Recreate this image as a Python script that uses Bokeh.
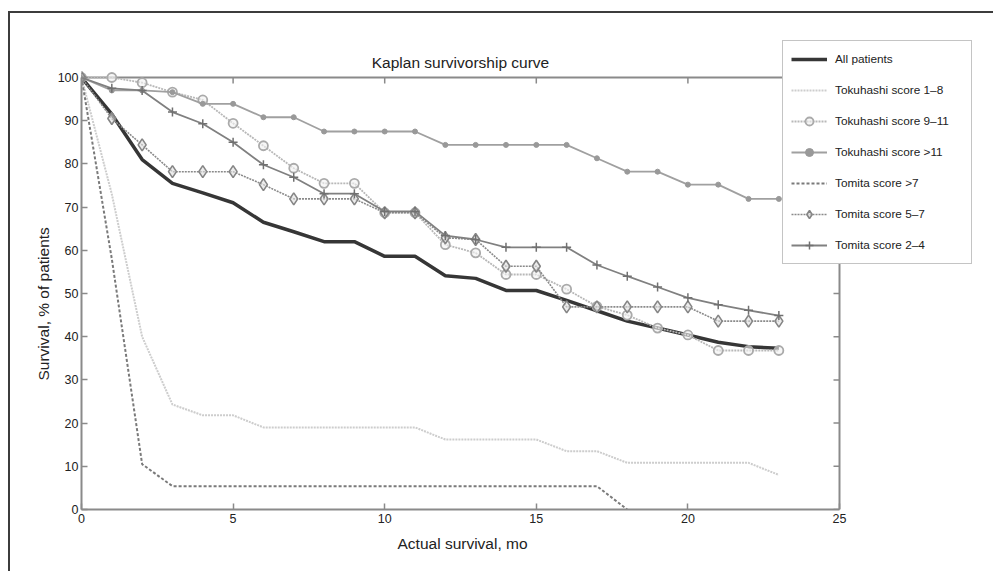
from bokeh.plotting import figure
from bokeh.models import (Range1d, Legend, LegendItem, FixedTicker, Label, Title)
from bokeh.embed import file_html
from bokeh.resources import INLINE

# ---------------- data ----------------
months = list(range(24))
all_patients = [100, 91.5, 81, 75.5, 73.3, 71, 66.5, 64.3, 62, 62, 58.6, 58.6,
                54.1, 53.5, 50.7, 50.7, 48.4, 46, 43.6, 42, 40.4, 38.7, 37.7, 37.3]
tok_1_8 = [100, 73, 40, 24.3, 21.8, 21.8, 19, 19, 19, 19, 19, 19,
           16.2, 16.2, 16.2, 16.2, 13.5, 13.5, 10.8, 10.8, 10.8, 10.8, 10.8, 8.0]
tok_9_11 = [100, 100, 98.8, 96.6, 94.8, 89.4, 84.2, 79, 75.5, 75.5, 68.7, 68.7,
            61.3, 59.4, 54.4, 54.4, 51, 47, 45, 42, 40.4, 36.8, 36.8, 36.8]
tok_gt11 = [100, 97, 97, 96.6, 93.9, 93.9, 90.8, 90.8, 87.5, 87.5, 87.5, 87.5,
            84.4, 84.4, 84.4, 84.4, 84.4, 81.3, 78.2, 78.2, 75.2, 75.2, 71.9, 71.9]
tom_gt7_months = list(range(19))
tom_gt7 = [100, 58, 10.5, 5.4, 5.4, 5.4, 5.4, 5.4, 5.4, 5.4, 5.4, 5.4,
           5.4, 5.4, 5.4, 5.4, 5.4, 5.4, 0]
tom_5_7 = [100, 90.5, 84.4, 78.2, 78.2, 78.2, 75.2, 71.9, 71.9, 71.9, 68.7, 68.7,
           62.9, 62.5, 56.3, 56.3, 46.9, 46.9, 46.9, 46.9, 46.9, 43.6, 43.6, 43.6]
tom_2_4 = [100, 97.5, 97, 92, 89.3, 85, 79.8, 76.9, 73.1, 73.1, 69, 69,
           63.4, 62.5, 60.7, 60.7, 60.7, 56.6, 54, 51.5, 49, 47.4, 46.1, 44.9]

x_ticks = [0, 5, 10, 15, 20, 25]
y_ticks = [0, 10, 20, 30, 40, 50, 60, 70, 80, 90, 100]
x_min, x_max = 0, 25
y_min, y_max = 0, 100

title_text = "Kaplan survivorship curve"
x_label = "Actual survival, mo"
y_label = "Survival, % of patients"

FONT = "Liberation Sans"
AX = "#8a8a8a"
TXT = "#222222"

# pixel geometry (canvas)
W, H = 985, 560
FR_L, FR_R, FR_T, FR_B = 71, 965, 23, 496          # frame edges in canvas px
px_per_x = 30.32
px_per_y = 4.32
x_end = (FR_R - FR_L) / px_per_x
y_end = (FR_B - FR_T) / px_per_y

p = figure(width=W, height=H, output_backend="svg", toolbar_location=None,
           x_range=Range1d(0, x_end), y_range=Range1d(0, y_end),
           min_border_left=FR_L, min_border_top=FR_T, min_border_right=W - FR_R,
           min_border_bottom=H - FR_B)
p.styles = {"border-left": "2px solid #3c3c3c", "border-top": "2px solid #3c3c3c",
            "margin-left": "8px", "margin-top": "11px"}
p.background_fill_color = "white"
p.border_fill_color = "white"
p.grid.visible = False
p.outline_line_color = None
p.title.text = ""

for ax in (p.xaxis[0], p.yaxis[0]):
    ax.axis_line_color = AX
    ax.axis_line_width = 2
    ax.major_tick_line_color = AX
    ax.major_tick_line_width = 1.5
    ax.major_tick_in = 6
    ax.major_tick_out = 0
    ax.minor_tick_line_color = None
    ax.major_label_text_font = FONT
    ax.major_label_text_font_size = "12.5px"
    ax.major_label_text_color = TXT
p.xaxis[0].ticker = FixedTicker(ticks=x_ticks)
p.yaxis[0].ticker = FixedTicker(ticks=y_ticks)
p.xaxis[0].bounds = (x_min, x_max)
p.yaxis[0].bounds = (y_min, y_max)
p.xaxis[0].major_label_standoff = 4
p.yaxis[0].major_label_standoff = 3

# axis titles, placed along the plot box (not the wider frame)
xt = Title(text=x_label, align="left", offset=316, standoff=14, text_font=FONT,
           text_font_size="15.5px", text_font_style="normal", text_color=TXT)
p.add_layout(xt, "below")
yt = Title(text=y_label, align="left", offset=129, standoff=6, text_font=FONT,
           text_font_size="15.5px", text_font_style="normal", text_color=TXT)
p.add_layout(yt, "left")

# top and right sides of the plot box, with inward ticks
p.line([x_min, x_max, x_max], [y_max, y_max, y_min], line_color=AX, line_width=2)
tick_dy = 6 / px_per_y
tick_dx = 6 / px_per_x
p.segment(x0=x_ticks, y0=[y_max] * len(x_ticks), x1=x_ticks,
          y1=[y_max - tick_dy] * len(x_ticks), line_color=AX, line_width=1.5)
p.segment(x0=[x_max] * len(y_ticks), y0=y_ticks, x1=[x_max - tick_dx] * len(y_ticks),
          y1=y_ticks, line_color=AX, line_width=1.5)

# chart title
p.add_layout(Label(x=(x_min + x_max) / 2, y=y_max + 3.5, text=title_text,
                   text_align="center", text_baseline="middle", text_font=FONT,
                   text_font_size="15.5px", text_color=TXT))

# ---------------- series ----------------
items = []

r = p.line(months, all_patients, line_color="#363636", line_width=3.5)
items.append(LegendItem(label="All patients", renderers=[r]))

r = p.line(months, tok_1_8, line_color="#cdcdcd", line_width=2, line_dash="2 1")
items.append(LegendItem(label="Tokuhashi score 1\u20138", renderers=[r]))

r1 = p.line(months, tok_9_11, line_color="#b8b8b8", line_width=1.8, line_dash="2 1")
r2 = p.scatter(months, tok_9_11, marker="circle", size=9, fill_color="#f2f2f2",
               fill_alpha=0.6, line_color="#aaaaaa", line_width=1.8)
items.append(LegendItem(label="Tokuhashi score 9\u201311", renderers=[r1, r2]))

r1 = p.line(months, tok_gt11, line_color="#a0a0a0", line_width=1.8)
r2 = p.scatter(months, tok_gt11, marker="circle", size=5, fill_color="#999999",
               line_color="#999999")
items.append(LegendItem(label="Tokuhashi score >11", renderers=[r1, r2]))

r = p.line(tom_gt7_months, tom_gt7, line_color="#7a7a7a", line_width=2, line_dash="3 2")
items.append(LegendItem(label="Tomita score >7", renderers=[r]))

r1 = p.line(months, tom_5_7, line_color="#8a8a8a", line_width=1.6, line_dash="2 1")
r2 = p.scatter(months, tom_5_7, marker="diamond", size=12, fill_color="#e0e0e0",
               fill_alpha=0.6, line_color="#858585", line_width=1.6)
items.append(LegendItem(label="Tomita score 5\u20137", renderers=[r1, r2]))

r1 = p.line(months, tom_2_4, line_color="#808080", line_width=1.8)
r2 = p.scatter(months, tom_2_4, marker="cross", size=9, line_color="#707070",
               line_width=1.5)
items.append(LegendItem(label="Tomita score 2\u20134", renderers=[r1, r2]))

legend = Legend(items=items, location=(701, 245))
legend.label_text_font = FONT
legend.label_text_font_size = "11.8px"
legend.label_text_color = TXT
legend.glyph_width = 36
legend.glyph_height = 20
legend.label_height = 20
legend.label_width = 128
legend.label_standoff = 8
legend.spacing = 11
legend.padding = 8
legend.margin = 0
legend.border_line_color = AX
legend.border_line_width = 1.5
legend.background_fill_color = "white"
legend.background_fill_alpha = 1
p.add_layout(legend, "center")

open("out.html", "w").write(file_html(p, INLINE))
